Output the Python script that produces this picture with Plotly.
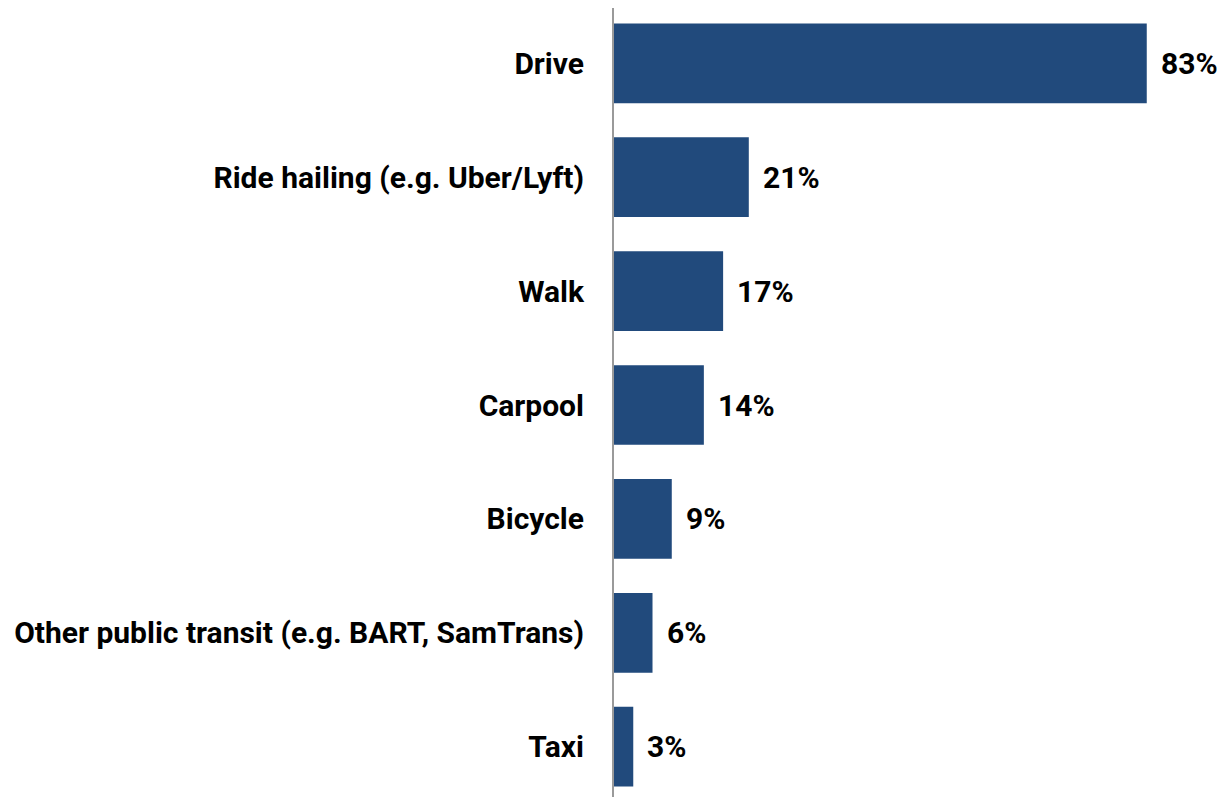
import plotly.graph_objects as go

categories = ["Drive", "Ride hailing (e.g. Uber/Lyft)", "Walk", "Carpool", "Bicycle",
              "Other public transit (e.g. BART, SamTrans)", "Taxi"]
values = [83, 21, 17, 14, 9, 6, 3]
value_labels = ["83%", "21%", "17%", "14%", "9%", "6%", "3%"]

FONT = "Roboto, Liberation Sans, sans-serif"
BAR_COLOR = "#214A7C"

fig = go.Figure()
fig.add_trace(go.Bar(
    x=values, y=categories, orientation="h",
    marker=dict(color=BAR_COLOR, line=dict(width=0)),
    hoverinfo="skip",
))

for v, c, t in zip(values, categories, value_labels):
    fig.add_annotation(x=v, y=c, text="<b>%s</b>" % t, showarrow=False,
                       xanchor="left", yanchor="middle", xshift=12,
                       font=dict(family=FONT, size=30, color="black"))

fig.update_layout(
    width=1219, height=791,
    margin=dict(l=606, r=0, t=0, b=2),
    paper_bgcolor="white", plot_bgcolor="white",
    showlegend=False, bargap=0.3,
    font=dict(family=FONT, size=30, color="black"),
)
fig.update_xaxes(range=[0, 95.5], showgrid=False, zeroline=False,
                 showticklabels=False, showline=False)
fig.update_yaxes(range=[6.442, -0.486], showgrid=False, zeroline=False,
                 showline=True, linecolor="#9a9a9a", linewidth=2,
                 ticks="", ticklabelstandoff=22,
                 tickvals=categories,
                 ticktext=["<b>%s</b>" % c for c in categories],
                 tickfont=dict(family=FONT, size=30, color="black"))

fig.write_html("out.html")
